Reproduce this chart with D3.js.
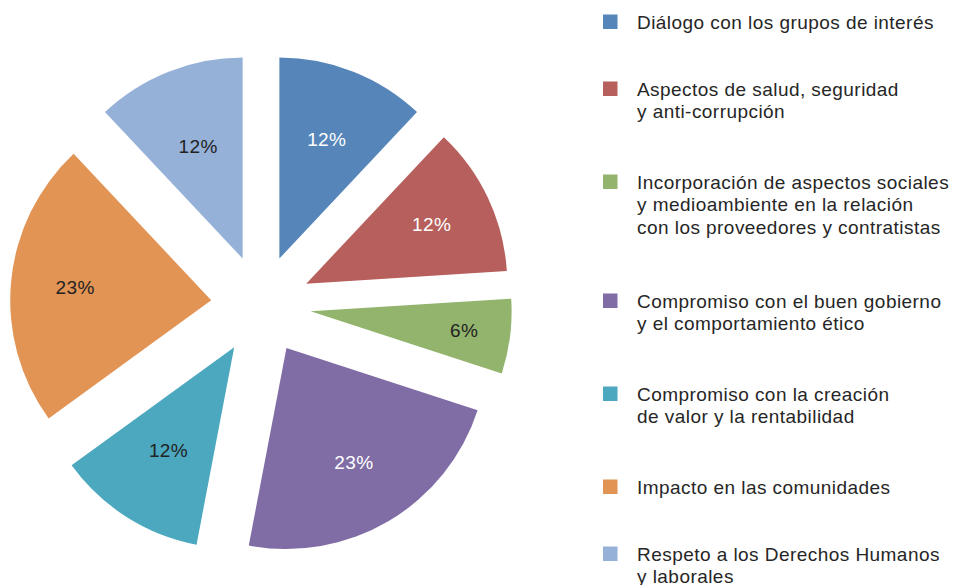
<!DOCTYPE html>
<html>
<head>
<meta charset="utf-8">
<script src="https://cdn.jsdelivr.net/npm/d3@7"></script>
<style>
  body { margin: 0; background: #fff; }
  svg { display: block; font-family: "Liberation Sans", Arial, sans-serif; }
</style>
</head>
<body>
<script>

var width = 955,
  height = 585;

// data
var categories = [
  ["Diálogo con los grupos de interés"],
  ["Aspectos de salud, seguridad", "y anti-corrupción"],
  ["Incorporación de aspectos sociales", "y medioambiente en la relación", "con los proveedores y contratistas"],
  ["Compromiso con el buen gobierno", "y el comportamiento ético"],
  ["Compromiso con la creación", "de valor y la rentabilidad"],
  ["Impacto en las comunidades"],
  ["Respeto a los Derechos Humanos", "y laborales"]
];
var values = [12, 12, 6, 23, 12, 23, 12];
var labels = ["12%", "12%", "6%", "23%", "12%", "23%", "12%"];

var colors = ["#5585b9", "#b65f5c", "#93b46c", "#806da5", "#4ba8bf", "#e29455", "#95b1d8"];
var labelColors = ["#fff", "#fff", "#222", "#fff", "#222", "#222", "#222"];
// how far out (fraction of radius) each percent label sits
var labelPos = [0.64, 0.69, 0.77, 0.66, 0.61, 0.68, 0.6];

var svg = d3.select("body").append("svg")
  .attr("width", width)
  .attr("height", height);

var cx = 261, cy = 305,
  radius = 201,
  explode = 50;

var pie = d3.pie().sort(null).value(function(d){ return d; });
var arc = d3.arc().innerRadius(0).outerRadius(radius);

var slices = svg.append("g")
  .attr("transform", "translate(" + cx + "," + cy + ")")
  .selectAll("g")
  .data(pie(values))
  .enter().append("g")
  .attr("transform", function(d){
    var a = (d.startAngle + d.endAngle) / 2;
    return "translate(" + (explode * Math.sin(a)) + "," + (-explode * Math.cos(a)) + ")";
  });

slices.append("path")
  .attr("d", arc)
  .attr("fill", function(d, i){ return colors[i]; });

slices.append("text")
  .attr("transform", function(d, i){
    var a = (d.startAngle + d.endAngle) / 2;
    var lr = radius * labelPos[i];
    return "translate(" + (lr * Math.sin(a)) + "," + (-lr * Math.cos(a)) + ")";
  })
  .attr("text-anchor", "middle")
  .attr("dy", "0.35em")
  .attr("font-size", 19)
  .attr("letter-spacing", 0.4)
  .attr("fill", function(d, i){ return labelColors[i]; })
  .text(function(d, i){ return labels[i]; });

// legend
var lineH = 22.3, y = 29;
var legend = svg.append("g");
categories.forEach(function(lines, i){
  var g = legend.append("g").attr("transform", "translate(0," + y + ")");
  g.append("rect")
    .attr("x", 603).attr("y", -14.5)
    .attr("width", 14.5).attr("height", 14.5)
    .attr("fill", colors[i]);
  g.append("text")
    .attr("x", 637)
    .attr("font-size", 19)
    .attr("letter-spacing", 0.45)
    .attr("fill", "#262626")
    .selectAll("tspan")
    .data(lines)
    .enter().append("tspan")
    .attr("x", 637)
    .attr("y", function(d, j){ return j * lineH; })
    .text(function(d){ return d; });
  y += lines.length * 26 + 41;
});

</script>
</body>
</html>
